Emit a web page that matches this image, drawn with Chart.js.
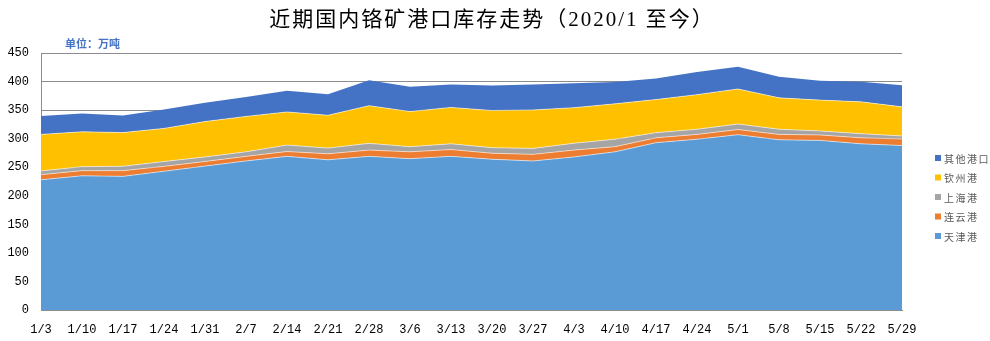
<!DOCTYPE html>
<html>
<head>
<meta charset="utf-8">
<script src="https://cdn.jsdelivr.net/npm/chart.js@4/dist/chart.umd.min.js"></script>
<style>
    html, body { margin: 0; padding: 0; background: #fff; }
    #wrap { width: 990px; height: 341px; }
</style>
</head>
<body>
<div id="wrap"><canvas id="stockChart"></canvas></div>
<script>
const weeks = ['1/3', '1/10', '1/17', '1/24', '1/31', '2/7', '2/14', '2/21', '2/28', '3/6', '3/13',
    '3/20', '3/27', '4/3', '4/10', '4/17', '4/24', '5/1', '5/8', '5/15', '5/22', '5/29'];

// 万吨
const tianjin = [228, 235, 234, 243, 252, 261, 269, 263, 269, 265, 269, 264, 261, 268, 277, 293, 299, 307, 298, 297, 291, 288];
const lianyungang = [9, 9, 10, 8.5, 8, 8, 8.5, 10.5, 11, 12, 12, 10.5, 11.5, 12, 9, 8.5, 8.5, 9, 9.5, 9.5, 10.5, 11.5];
const shanghai = [6.5, 7, 7.7, 8.5, 8, 8, 11.3, 10, 11.8, 9, 10, 9.8, 10.5, 12, 13, 9, 9, 9.7, 9, 7, 7.3, 5.2];
const qinzhou = [64, 61, 59, 58, 62, 62, 58, 57.5, 66, 61.5, 63.7, 65, 67.3, 62.3, 62, 58, 60.6, 61.3, 55, 54, 55.7, 51];
const others = [32, 32, 30, 33, 33, 34, 37, 36.6, 44.4, 43.4, 40.3, 44, 44.5, 42.7, 38.4, 37, 39.7, 39, 37, 34, 35, 38];

const yMax = 450;
const yStep = 50;

const cjk = '"Noto Sans CJK SC", sans-serif';

function area(label, data, color, fillMode, edge) {
    return {
        label,
        data,
        backgroundColor: color,
        borderColor: edge ? 'rgba(255,255,255,0.55)' : color,
        borderWidth: edge ? 1 : 0,
        fill: fillMode,
        pointRadius: 0,
        tension: 0,
    };
}

// title, unit note and the legend on the right
const decorations = {
    id: 'decorations',
    afterDraw(chart) {
        const ctx = chart.ctx;
        ctx.save();

        ctx.fillStyle = '#000';
        ctx.font = '21px "Liberation Serif", ' + cjk;
        ctx.letterSpacing = '2px';
        ctx.textAlign = 'center';
        ctx.textBaseline = 'middle';
        ctx.fillText('近期国内铬矿港口库存走势（2020/1 至今）', 492, 20);

        ctx.letterSpacing = '0px';
        ctx.fillStyle = '#4472C4';
        ctx.font = 'bold 11px ' + cjk;
        ctx.textAlign = 'left';
        ctx.fillText('单位：万吨', 65, 44);

        ctx.font = '10px ' + cjk;
        ctx.letterSpacing = '1.5px';
        const sets = chart.data.datasets.slice().reverse();
        sets.forEach((ds, i) => {
            const y = 158 + i * 19.5;
            ctx.fillStyle = ds.backgroundColor;
            ctx.fillRect(935, y - 3, 6, 6);
            ctx.fillStyle = '#595959';
            ctx.fillText(ds.label, 944, y + 1);
        });
        ctx.restore();
    }
};

new Chart(document.getElementById('stockChart'), {
    type: 'line',
    data: {
        labels: weeks,
        datasets: [
            area('天津港', tianjin, '#5B9BD5', 'origin', true),
            area('连云港', lianyungang, '#ED7D31', '-1', true),
            area('上海港', shanghai, '#A5A5A5', '-1', true),
            area('钦州港', qinzhou, '#FFC000', '-1', true),
            area('其他港口', others, '#4472C4', '-1', false),
        ]
    },
    options: {
        responsive: true,
        maintainAspectRatio: false,
        animation: false,
        layout: { padding: { top: 53, right: 88, left: 0, bottom: 0 } },
        plugins: {
            legend: { display: false },
            tooltip: { enabled: false },
        },
        scales: {
            x: {
                offset: false,
                grid: { display: false, drawTicks: false },
                border: { color: '#8c8c8c', width: 1 },
                ticks: {
                    autoSkip: false,
                    maxRotation: 0,
                    padding: 13,
                    color: '#000',
                    font: { family: '"Liberation Mono", monospace', size: 12 },
                },
                afterFit: scale => { scale.height = 31; },
            },
            y: {
                stacked: true,
                min: 0,
                max: yMax,
                grid: { color: '#8c8c8c', lineWidth: 1, drawTicks: false },
                border: { color: '#8c8c8c', width: 1 },
                ticks: {
                    stepSize: yStep,
                    padding: 12,
                    color: '#000',
                    font: { family: '"Liberation Mono", monospace', size: 12 },
                },
                afterFit: scale => { scale.width = 41; },
            }
        }
    },
    plugins: [decorations]
});
</script>
</body>
</html>
